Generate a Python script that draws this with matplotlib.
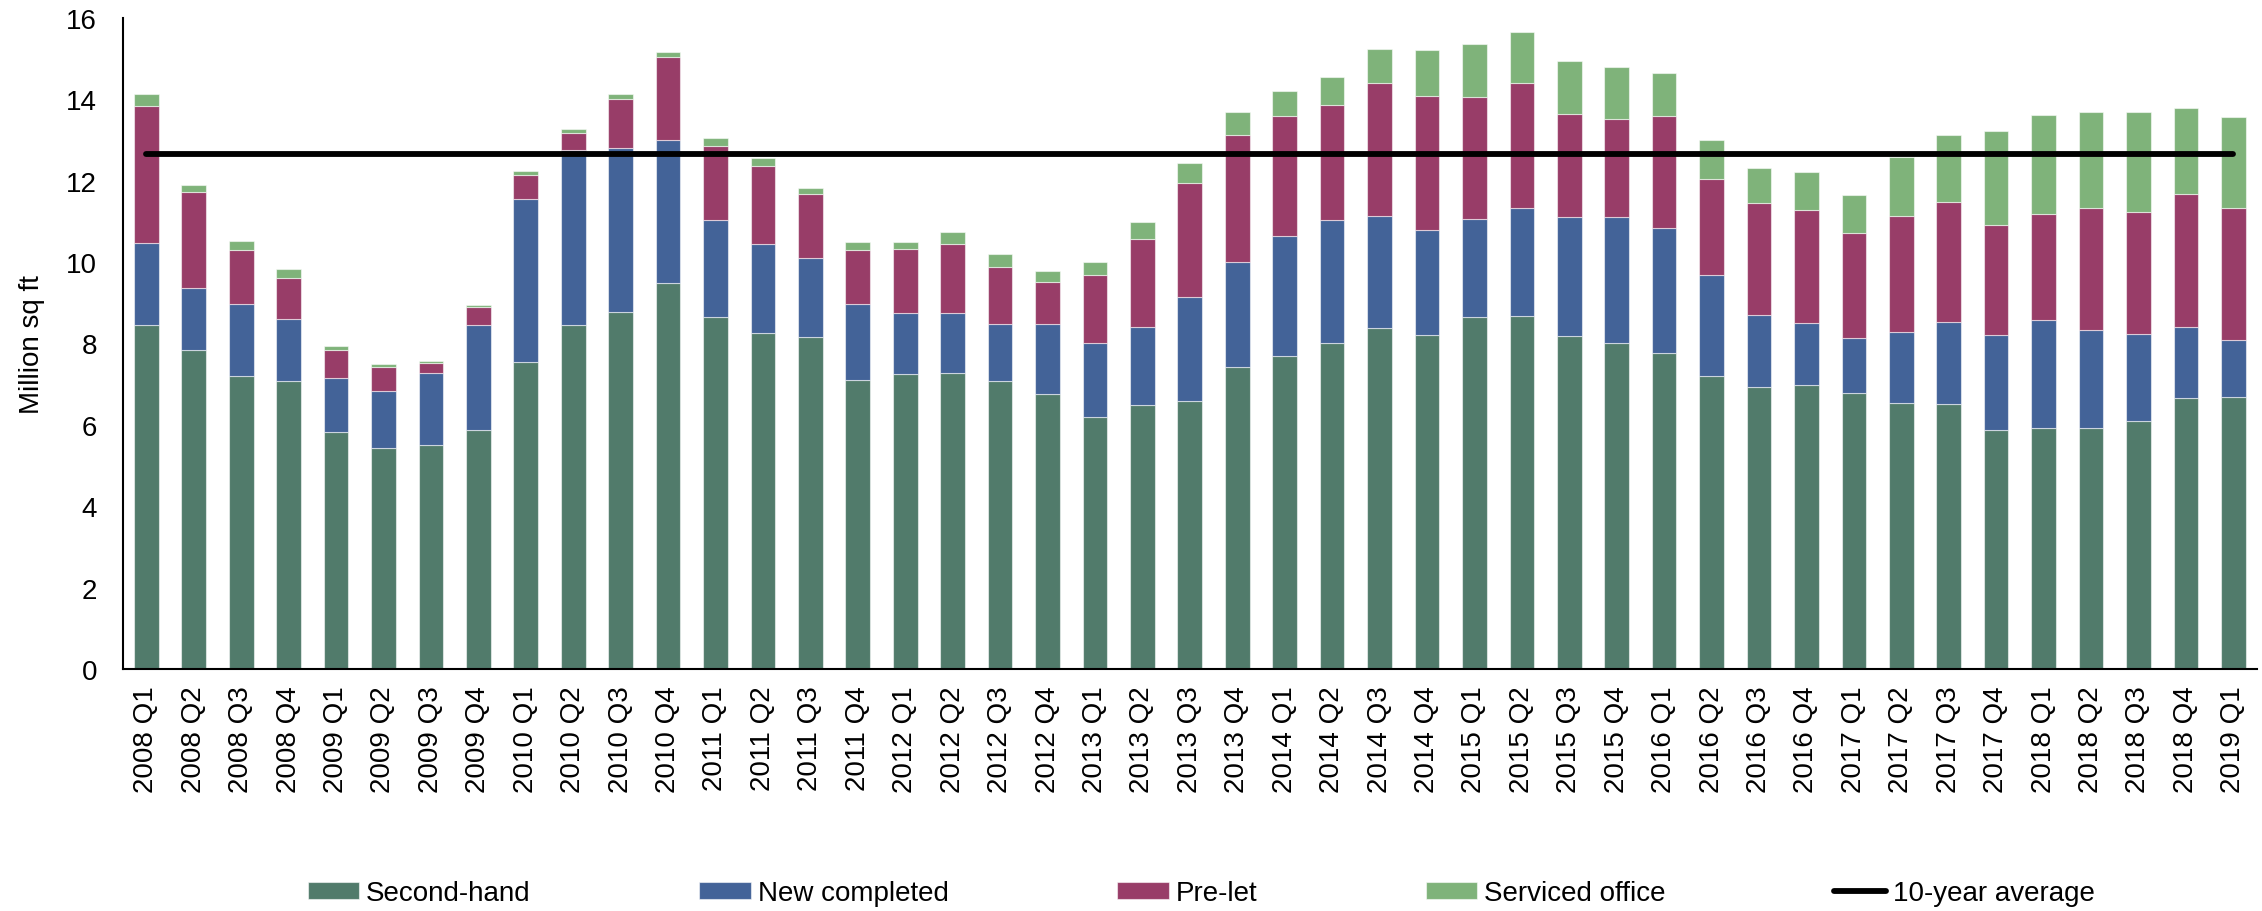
import matplotlib
matplotlib.use("Agg")
import matplotlib.pyplot as plt
from matplotlib.lines import Line2D
import numpy as np

plt.rcParams['font.family'] = ['Liberation Sans', 'DejaVu Sans']

# Quarterly take-up, million sq ft
quarters = [f"{y} Q{q}" for y in range(2008, 2019) for q in range(1, 5)] + ["2019 Q1"]

second_hand = [8.46, 7.85, 7.21, 7.07, 5.82, 5.44, 5.50, 5.88,
               7.55, 8.45, 8.78, 9.48, 8.65, 8.25, 8.16, 7.09,
               7.24, 7.27, 7.07, 6.77, 6.19, 6.48, 6.59, 7.43,
               7.68, 8.02, 8.38, 8.20, 8.64, 8.67, 8.19, 8.02,
               7.77, 7.19, 6.94, 6.97, 6.79, 6.54, 6.51, 5.88,
               5.91, 5.91, 6.10, 6.66, 6.69]
new_completed = [2.02, 1.51, 1.75, 1.54, 1.32, 1.40, 1.78, 2.57,
                 3.99, 4.31, 4.02, 3.51, 2.38, 2.19, 1.94, 1.87,
                 1.50, 1.49, 1.40, 1.72, 1.81, 1.92, 2.54, 2.58,
                 2.97, 3.02, 2.76, 2.58, 2.41, 2.66, 2.93, 3.10,
                 3.06, 2.50, 1.76, 1.54, 1.35, 1.73, 2.01, 2.33,
                 2.67, 2.41, 2.14, 1.75, 1.39]
pre_let = [3.35, 2.36, 1.33, 0.99, 0.69, 0.59, 0.25, 0.44,
           0.61, 0.42, 1.20, 2.04, 1.83, 1.91, 1.58, 1.34,
           1.57, 1.69, 1.42, 1.03, 1.69, 2.16, 2.82, 3.12,
           2.95, 2.83, 3.26, 3.31, 3.01, 3.06, 2.52, 2.40,
           2.77, 2.36, 2.76, 2.76, 2.58, 2.87, 2.95, 2.69,
           2.59, 3.02, 2.99, 3.26, 3.24]
serviced_office = [0.30, 0.18, 0.24, 0.22, 0.11, 0.07, 0.03, 0.06,
                   0.09, 0.09, 0.13, 0.14, 0.19, 0.21, 0.15, 0.19,
                   0.19, 0.30, 0.31, 0.27, 0.32, 0.42, 0.48, 0.55,
                   0.61, 0.67, 0.84, 1.13, 1.31, 1.27, 1.30, 1.28,
                   1.04, 0.96, 0.86, 0.94, 0.93, 1.45, 1.65, 2.31,
                   2.44, 2.35, 2.46, 2.12, 2.25]
ten_year_average = 12.66

series = [
    ("Second-hand", second_hand, "#517B6B"),
    ("New completed", new_completed, "#436398"),
    ("Pre-let", pre_let, "#983D68"),
    ("Serviced office", serviced_office, "#7FB37A"),
]

fig = plt.figure(figsize=(22.62, 9.12), dpi=100)
ax = fig.add_axes([0.0542, 0.2654, 0.9436, 0.7138])

x = np.arange(len(quarters))
bottom = np.zeros(len(quarters))
handles = []
for name, vals, color in series:
    vals = np.asarray(vals)
    bars = ax.bar(x, vals, width=0.52, bottom=bottom, color=color,
                  edgecolor=(1, 1, 1, 0.55), linewidth=0.8, label=name)
    handles.append(bars)
    bottom += vals

avg_line, = ax.plot([x[0], x[-1]], [ten_year_average] * 2, color="black",
                    linewidth=4.2, solid_capstyle="round", label="10-year average")

ax.set_xlim(-0.5, len(quarters) - 0.5)
ax.set_ylim(0, 16)
ax.set_yticks(np.arange(0, 17, 2))
ax.set_xticks(x)
ax.set_xticklabels(quarters, rotation=90, fontsize=20)
ax.tick_params(axis="y", labelsize=20, length=0, pad=18.5)
ax.tick_params(axis="x", length=0, pad=12)
ax.set_ylabel("Million sq ft", fontsize=20, labelpad=15)

for side in ("top", "right"):
    ax.spines[side].set_visible(False)
for side in ("left", "bottom"):
    ax.spines[side].set_linewidth(1.5)
    ax.spines[side].set_color("black")

legend_line = Line2D([0], [0], color="black", linewidth=4.2, solid_capstyle="round")
fig.legend(handles + [legend_line],
           [s[0] for s in series] + ["10-year average"],
           loc="center", bbox_to_anchor=(0.531, 0.0197), ncol=5, frameon=False,
           fontsize=20, handlelength=1.85, handleheight=0.55, handletextpad=0.25,
           columnspacing=6.07)

fig.savefig("out.png", dpi=100)
